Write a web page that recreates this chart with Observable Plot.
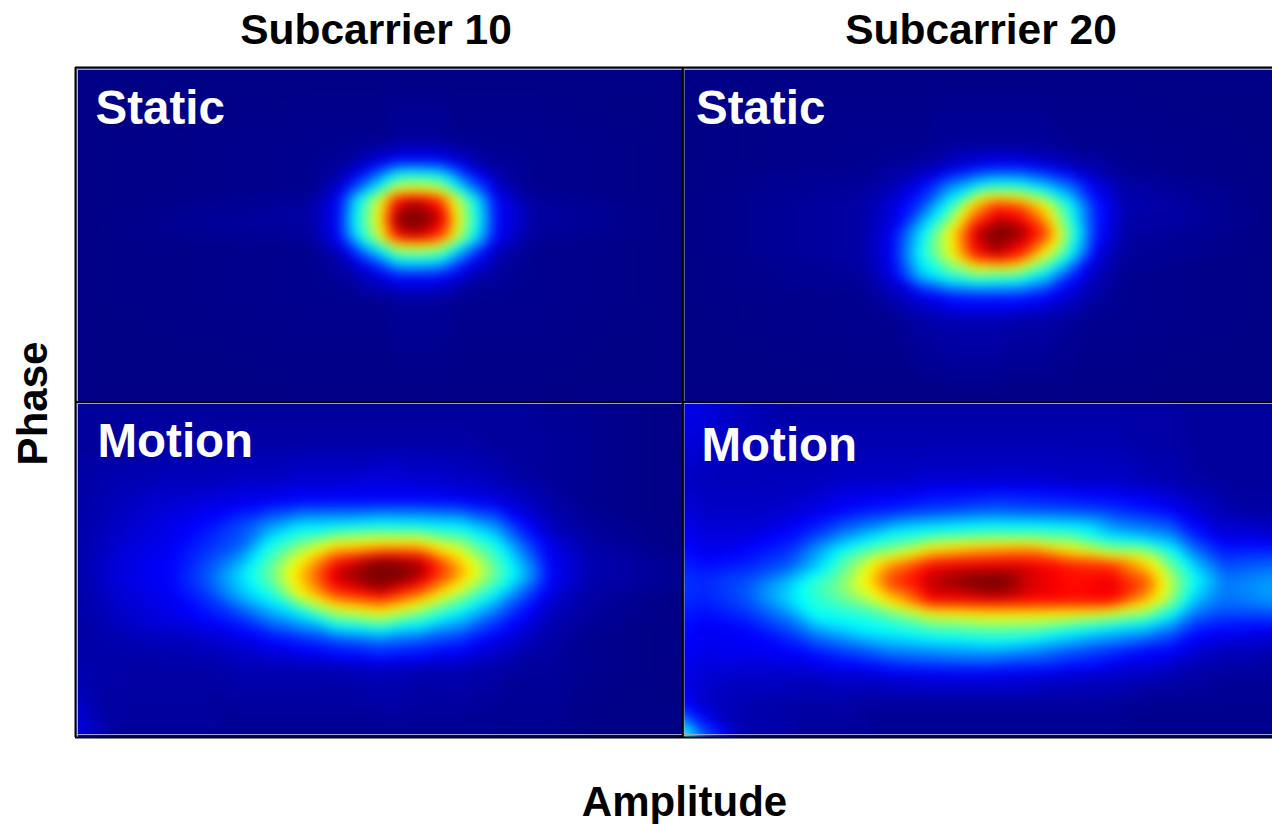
<!DOCTYPE html>
<html>
<head>
<meta charset="utf-8">
<style>html,body{margin:0;padding:0;background:#fff;overflow:hidden}svg{display:block}</style>
<script src="https://cdn.jsdelivr.net/npm/d3@7"></script>
<script src="https://cdn.jsdelivr.net/npm/@observablehq/plot@0.6"></script>
</head>
<body>
<div id="chart"></div>
<script>
// Bin positions (amplitude, phase) and densities (percent of panel peak).
const staticTenAmp = [0,234,261,279,302,319,337,354,367,381,402,421,457,606];
const staticTenPhase = [0,72,92,105,122,130,150,169,177,192,209,232,335];
const staticTen = [
[0,0,0,0,0,0,0,0,0,0,0,0,0,0],
[0,1,1,1,1,2,2,2,2,1,1,1,1,0],
[0,1,2,3,7,11,11,11,10,7,3,2,1,0],
[0,1,3,9,21,34,36,35,32,21,9,3,1,0],
[0,1,7,21,40,60,64,62,57,40,21,7,1,0],
[0,2,10,32,57,85,91,87,78,57,32,10,2,0],
[0,3,11,36,62,96,100,96,90,62,36,11,3,0],
[0,2,10,32,57,85,91,87,78,57,32,10,2,0],
[0,1,7,21,40,60,64,62,57,40,21,7,1,0],
[0,1,3,9,21,34,36,35,32,21,9,3,1,0],
[0,1,2,3,7,11,11,11,10,7,3,2,1,0],
[0,1,1,1,1,2,2,2,2,1,1,1,1,0],
[0,0,0,0,0,0,0,0,0,0,0,0,0,0]
];
const staticTwentyAmp = [606,784,814,844,874,899,921,944,969,994,1019,1049,1196];
const staticTwentyPhase = [0,77,97,117,137,164,187,207,227,252,335];
const staticTwenty = [
[0,0,0,0,0,0,0,0,0,0,0,0,0],
[0,1,1,1,2,2,2,2,2,1,1,1,0],
[0,1,2,3,6,9,11,11,8,5,3,1,0],
[0,2,4,10,24,33,38,37,30,21,9,3,0],
[0,3,7,17,40,70,84,80,62,37,14,4,0],
[0,3,9,33,62,92,100,96,82,45,14,3,0],
[0,3,10,37,60,86,92,84,60,36,9,2,0],
[0,2,8,30,42,48,46,44,33,15,5,1,0],
[0,1,4,9,14,15,15,15,12,7,3,1,0],
[0,1,1,3,4,4,4,3,3,2,1,1,0],
[0,0,0,0,0,0,0,0,0,0,0,0,0]
];
const motionTenAmp = [0,44,94,129,164,194,224,259,304,344,384,419,444,474,514,606];
const motionTenPhase = [335,372,412,432,457,477,491,505,517,527,547,572,602,669];
const motionTen = [
[2,2,2,2,2,2,2,2,2,2,2,2,2,1,1,0],
[2,2,3,3,3,3,3,3,3,3,3,2,2,2,1,0],
[3,4,5,5,6,6,7,7,8,7,6,5,3,2,1,0],
[3,5,7,8,9,10,11,11,11,11,10,8,6,3,1,0],
[3,6,9,12,18,26,33,34,37,36,34,25,13,5,2,0],
[3,7,10,15,20,38,50,64,68,68,54,38,22,9,3,0],
[3,8,11,17,27,44,62,84,96,92,66,44,28,10,4,1],
[3,8,11,19,33,48,68,92,100,95,72,48,32,11,4,1],
[3,8,11,18,31,44,66,88,97,86,62,42,27,10,3,1],
[3,7,10,16,29,38,60,80,88,74,52,34,20,8,3,0],
[3,6,9,12,17,26,33,50,58,46,33,20,12,5,2,0],
[3,4,5,6,8,11,14,18,22,19,15,9,6,3,1,0],
[4,3,3,3,4,4,4,4,5,4,4,3,2,2,1,0],
[9,2,2,2,1,1,1,1,1,1,1,1,1,1,0,0]
];
const motionTwentyAmp = [606,629,669,714,739,764,789,814,854,914,954,994,1034,1069,1094,1119,1149,1174,1196];
const motionTwentyPhase = [335,372,412,442,467,482,497,514,532,547,562,582,607,637,669];
const motionTwenty = [
[10,8,5,3,3,3,3,3,3,3,3,3,3,3,3,2,2,2,2],
[8,7,5,4,4,4,4,4,4,4,4,4,4,3,3,2,2,2,2],
[6,5,5,5,5,6,6,6,7,7,7,6,6,5,4,3,2,2,2],
[8,6,6,7,9,11,13,14,17,20,19,18,16,13,11,7,4,3,3],
[10,8,8,12,17,24,30,37,42,46,46,44,32,28,25,14,8,8,7],
[12,9,11,16,26,36,44,50,66,74,76,64,52,50,38,22,13,14,14],
[14,12,14,20,30,44,58,74,88,90,90,86,84,68,48,31,18,20,21],
[16,15,19,31,42,50,63,82,93,100,91,87,90,80,56,37,23,25,27],
[15,14,19,33,40,46,53,66,88,90,88,87,88,70,52,30,22,24,26],
[13,12,15,25,37,38,40,46,58,62,62,60,55,48,36,21,17,17,18],
[12,10,11,18,26,31,35,37,42,46,45,38,32,28,22,13,11,10,9],
[11,9,10,11,14,17,20,24,26,28,25,20,16,12,11,7,5,5,4],
[9,7,6,6,6,7,7,8,9,9,8,7,6,5,4,3,2,2,2],
[12,6,4,3,3,3,2,2,2,2,2,2,2,1,1,1,1,1,1],
[45,20,4,3,2,2,2,1,1,1,1,1,1,1,1,1,1,1,1]
];
const colorStops = [0,11,36,50,62,88,97];
const jetColors = ["#000084","#0000ff","#00ffff","#80ff80","#ffff00","#ff0000","#800000"];
const columnTitles = ["Subcarrier 10","Subcarrier 20"];
const rowLabels = ["Static","Static","Motion","Motion"];

const cells = (amp, phase, grid) => phase.flatMap((y, j) => amp.map((x, i) => ({x, y, v: grid[j][i]})));
const heat = (amp, phase, grid) => Plot.raster(cells(amp, phase, grid), {
  x: "x", y: "y", fill: "v",
  x1: amp[0], x2: amp[amp.length - 1], y1: phase[0], y2: phase[phase.length - 1],
  interpolate: "barycentric", blur: 5
});
const font = {fontFamily: "Liberation Sans, Arial, sans-serif", fontWeight: "bold"};
const label = (text, x, y, size, fill, extra = {}) => Plot.text([text], {x: () => x, y: () => y, text: d => d, fontSize: size, fill, ...font, ...extra});

const chart = Plot.plot({
  width: 1272, height: 824,
  marginLeft: 76, marginRight: 0, marginTop: 68, marginBottom: 87,
  x: {domain: [0, 1196], axis: null},
  y: {domain: [0, 669], reverse: true, axis: null},
  color: {type: "linear", domain: colorStops, range: jetColors, clamp: true},
  marks: [
    heat(staticTenAmp, staticTenPhase, staticTen),
    heat(staticTwentyAmp, staticTwentyPhase, staticTwenty),
    heat(motionTenAmp, motionTenPhase, motionTen),
    heat(motionTwentyAmp, motionTwentyPhase, motionTwenty),
    Plot.ruleX([1, 607.5], {y1: 0, y2: 669, stroke: "#b0b0c0", strokeWidth: 1}),
    Plot.ruleY([1, 335, 666], {x1: 0, x2: 1196, stroke: "#a0a0c0", strokeWidth: 1}),
    Plot.ruleX([-1, 606.3], {y1: -1, y2: 669, stroke: "#000", strokeWidth: 2}),
    Plot.ruleY([-1, 333.5, 669], {x1: -1, x2: 1196, stroke: "#000", strokeWidth: 2}),
    label(columnTitles[0], 299.5, -38, 42.5, "#000"),
    label(columnTitles[1], 904.5, -38, 42.5, "#000"),
    label(rowLabels[0], 19, 40, 47.5, "#fff", {textAnchor: "start"}),
    label(rowLabels[1], 619.5, 40, 47.5, "#fff", {textAnchor: "start"}),
    label(rowLabels[2], 21, 373, 47.5, "#fff", {textAnchor: "start"}),
    label(rowLabels[3], 625, 377, 47.5, "#fff", {textAnchor: "start"}),
    label("Amplitude", 608, 734, 42, "#000"),
    label("Phase", -43, 335, 42, "#000", {rotate: -90})
  ]
});
document.getElementById("chart").append(chart);
</script>
</body>
</html>
